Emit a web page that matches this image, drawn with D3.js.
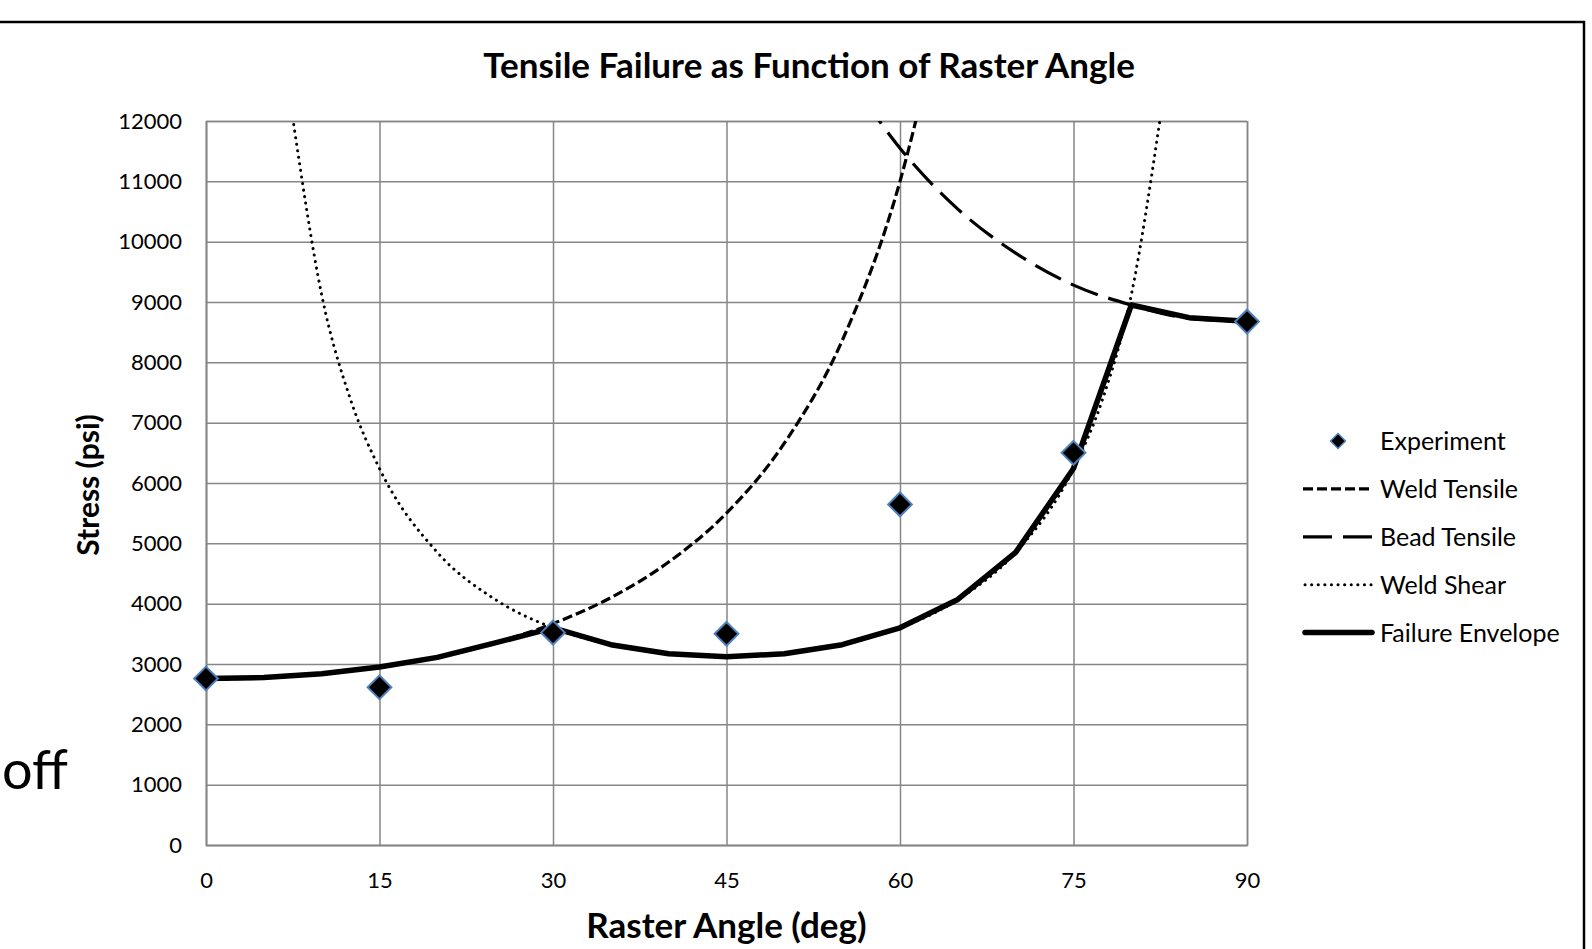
<!DOCTYPE html>
<html>
<head>
<meta charset="utf-8">
<script src="https://cdn.jsdelivr.net/npm/d3@7"></script>
<style>
  body { margin: 0; background: #fff; }
  svg { display: block; font-family: Lato, "Open Sans", sans-serif; }
</style>
</head>
<body>
<div id="chart"></div>
<script>
// measured values
var expAngles = [0, 15, 30, 45, 60, 75, 90];
var experiment = [2760, 2615, 3520, 3500, 5645, 6500, 8675];

var envAngles = [0, 5, 10, 15, 20, 25, 30, 35, 40, 45, 50, 55, 60, 65, 70, 75, 80, 85, 90];
var envelope = [2760, 2775, 2840, 2950, 3110, 3350, 3600, 3320, 3170, 3120, 3170, 3320, 3600, 4070, 4850, 6240, 8950, 8740, 8680];

var weldTensileAngles = [0, 5, 10, 15, 20, 25, 30, 35, 40, 45, 50, 55, 60, 62.5];
var weldTensile = [2750, 2770, 2840, 2950, 3110, 3350, 3670, 4100, 4690, 5500, 6660, 8360, 11000, 12900];

var beadTensileAngles = [55, 60, 65, 70, 75, 80, 85, 90];
var beadTensile = [12900, 11550, 10540, 9810, 9280, 8950, 8730, 8680];

var weldShearAngles = [7.5, 10, 12.5, 15, 20, 25, 30, 35, 40, 45, 50, 55, 60, 65, 70, 75, 77.5, 80, 82.5];
var weldShear = [12050, 9120, 7380, 6240, 4850, 4070, 3600, 3320, 3170, 3120, 3170, 3320, 3600, 4070, 4850, 6240, 7380, 9120, 12050];

var xTicks = [0, 15, 30, 45, 60, 75, 90];
var yTicks = d3.range(0, 12001, 1000);

var width = 1592,
  height = 949;
var plotLeft = 206,
  plotRight = 1247,
  plotTop = 121,
  plotBottom = 845;

var svg = d3
  .select("#chart")
  .append("svg")
  .attr("width", width)
  .attr("height", height);

var x = d3.scaleLinear().domain([0, 90]).range([plotLeft, plotRight]);
var y = d3.scaleLinear().domain([0, 12000]).range([plotBottom, plotTop]);

// frame bits of the slide
svg.append("line").attr("x1", 0).attr("x2", 1585).attr("y1", 22).attr("y2", 22)
  .attr("stroke", "#000").attr("stroke-width", 2.5);
svg.append("line").attr("x1", 1584).attr("x2", 1584).attr("y1", 21).attr("y2", height)
  .attr("stroke", "#000").attr("stroke-width", 2.5);

svg.append("text")
  .attr("x", 2).attr("y", 789)
  .style("font-size", "54px")
  .text("off");

svg.append("text")
  .attr("x", 809).attr("y", 78)
  .attr("text-anchor", "middle")
  .style("font-size", "35px").style("font-weight", "bold")
  .text("Tensile Failure as Function of Raster Angle");

// grid + axes
var yAxis = svg.append("g")
  .attr("transform", "translate(" + plotLeft + ",0)")
  .call(d3.axisLeft(y).tickValues(yTicks).tickFormat(d3.format("d"))
    .tickSize(-(plotRight - plotLeft)).tickPadding(24));
var xAxis = svg.append("g")
  .attr("transform", "translate(0," + plotBottom + ")")
  .call(d3.axisBottom(x).tickValues(xTicks).tickSize(-(plotBottom - plotTop)).tickPadding(27));

[xAxis, yAxis].forEach(function (a) {
  a.select(".domain").attr("stroke", "#868686").attr("stroke-width", 1.5);
  a.selectAll(".tick line").attr("stroke", "#868686").attr("stroke-width", 1.5);
  a.selectAll(".tick text").attr("fill", "#000").style("font-size", "22px").style("font-family", "Lato, sans-serif");
});

svg.append("text")
  .attr("x", (plotLeft + plotRight) / 2).attr("y", 938)
  .attr("text-anchor", "middle")
  .style("font-size", "35px").style("font-weight", "bold")
  .text("Raster Angle (deg)");

svg.append("text")
  .attr("transform", "translate(99,485) rotate(-90)")
  .attr("text-anchor", "middle")
  .style("font-size", "30px").style("font-weight", "bold")
  .text("Stress (psi)");

// curves
svg.append("clipPath").attr("id", "clip")
  .append("rect").attr("x", 0).attr("y", plotTop).attr("width", width).attr("height", plotBottom - plotTop);

var plot = svg.append("g").attr("clip-path", "url(#clip)");

function lineOf(angles, values, curve) {
  return d3.line()
    .x(function (d) { return x(d[0]); })
    .y(function (d) { return y(d[1]); })
    .curve(curve)(d3.zip(angles, values));
}

var styles = {
  weldTensile: { w: 3.2, dash: "10 4", cap: "butt" },
  beadTensile: { w: 3.2, dash: "29 11", cap: "butt" },
  weldShear: { w: 3, dash: "0.1 6.5", cap: "round" },
  envelope: { w: 5.5, dash: null, cap: "round" }
};

function drawSeries(g, d, s) {
  g.append("path")
    .attr("d", d)
    .attr("fill", "none")
    .attr("stroke", "#000")
    .attr("stroke-width", s.w)
    .attr("stroke-dasharray", s.dash)
    .attr("stroke-linecap", s.cap)
    .attr("stroke-linejoin", "round");
}

drawSeries(plot, lineOf(weldShearAngles, weldShear, d3.curveMonotoneX), styles.weldShear);
drawSeries(plot, lineOf(weldTensileAngles, weldTensile, d3.curveMonotoneX), styles.weldTensile);
drawSeries(plot, lineOf(beadTensileAngles, beadTensile, d3.curveMonotoneX), styles.beadTensile);
drawSeries(svg, lineOf(envAngles, envelope, d3.curveLinear), styles.envelope);

var diamond = d3.symbol().type(d3.symbolDiamond2);

svg.append("g").selectAll("path")
  .data(d3.zip(expAngles, experiment))
  .join("path")
  .attr("transform", function (d) { return "translate(" + x(d[0]) + "," + y(d[1]) + ")"; })
  .attr("d", diamond.size(360))
  .attr("fill", "#000")
  .attr("stroke", "#4f81bd")
  .attr("stroke-width", 2);

// legend
var legendItems = [
  { name: "Experiment", key: "experiment" },
  { name: "Weld Tensile", key: "weldTensile" },
  { name: "Bead Tensile", key: "beadTensile" },
  { name: "Weld Shear", key: "weldShear" },
  { name: "Failure Envelope", key: "envelope" }
];

var legend = svg.append("g").attr("transform", "translate(1303,441)");
legendItems.forEach(function (item, i) {
  var row = legend.append("g").attr("transform", "translate(0," + i * 47.9 + ")");
  if (item.key == "experiment") {
    row.append("path")
      .attr("transform", "translate(35,0)")
      .attr("d", d3.symbol().type(d3.symbolDiamond2).size(140)())
      .attr("fill", "#000")
      .attr("stroke", "#4f81bd")
      .attr("stroke-width", 1.5);
  } else {
    var s = styles[item.key];
    row.append("line")
      .attr("x1", s.cap == "round" ? 2 : 0).attr("x2", 69)
      .attr("stroke", "#000")
      .attr("stroke-width", s.w)
      .attr("stroke-dasharray", s.dash)
      .attr("stroke-linecap", s.cap);
  }
  row.append("text")
    .attr("x", 77).attr("y", 9)
    .style("font-size", "25px")
    .text(item.name);
});
</script>
</body>
</html>
